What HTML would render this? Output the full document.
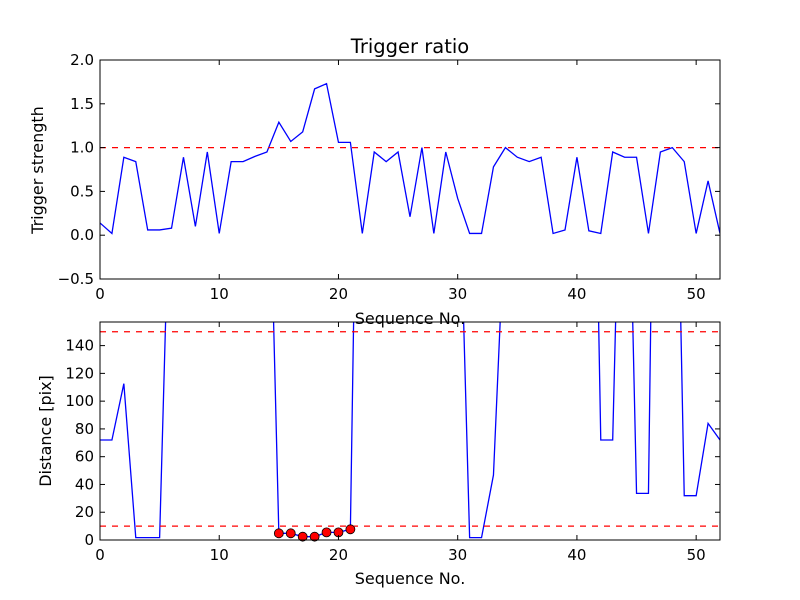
<!DOCTYPE html>
<html><head><meta charset="utf-8"><style>
html,body{margin:0;padding:0;background:#fff;}
svg{display:block;font-family:"DejaVu Sans","Liberation Sans",sans-serif;}
</style></head><body>
<svg id="fig" width="800" height="600" viewBox="0 0 800 600">
<defs>
<clipPath id="c1"><rect x="100" y="60" width="620" height="219"/></clipPath>
<clipPath id="c2"><rect x="100" y="322" width="620" height="218"/></clipPath>
</defs>
<rect width="800" height="600" fill="#fff"/>
<text x="410" y="53" font-size="19.5" text-anchor="middle">Trigger ratio</text>
<g id="top"></g>
<g id="bot"></g>
<text x="410" y="324" font-size="16" text-anchor="middle">Sequence No.</text>
<text x="410" y="584" font-size="16" text-anchor="middle">Sequence No.</text>
<text transform="translate(43,170) rotate(-90)" font-size="16" text-anchor="middle">Trigger strength</text>
<text transform="translate(51,431) rotate(-90)" font-size="16" text-anchor="middle">Distance [pix]</text>
</svg>
<script>
const triggerValues = [0.14,0.02,0.89,0.84,0.06,0.06,0.08,0.89,0.10,0.95,0.02,0.84,0.84,0.90,0.95,1.29,1.07,1.18,1.67,1.73,1.06,1.06,0.02,0.95,0.84,0.95,0.21,1.0,0.02,0.95,0.42,0.02,0.02,0.78,1.0,0.89,0.84,0.89,0.02,0.06,0.89,0.05,0.02,0.95,0.89,0.89,0.02,0.95,1.0,0.84,0.02,0.62,0.02];
const distanceValues = [72,72,112.6,1.7,1.7,1.7,312,350,350,350,350,350,350,350,350,4.8,4.8,2.4,2.4,5.5,5.5,7.7,560,560,560,560,560,560,560,560,312,1.7,1.7,46.8,243,243,243,243,243,243,545,545,72,72,420,33.6,33.6,683,463,31.9,31.9,84,72];
const markerIdx = [15,16,17,18,19,20,21];
const topYTicks = [-0.5,0,0.5,1.0,1.5,2.0];
const topYLabels = ["\u22120.5","0.0","0.5","1.0","1.5","2.0"];
const botYTicks = [0,20,40,60,80,100,120,140];
const xTicks = [0,10,20,30,40,50];
const topThreshold = [1.0];
const botThresholds = [10,150];

const NS="http://www.w3.org/2000/svg";
function mk(tag,attrs,parent){const e=document.createElementNS(NS,tag);for(const k in attrs)e.setAttribute(k,attrs[k]);parent.appendChild(e);return e;}
const X0=100,X1=720,XMAX=52;
const sx=v=>X0+(X1-X0)*v/XMAX;
function frame(g,y0,y1,sy,yt,ylab,prefix){
  const f=mk('rect',{x:X0,y:y0,width:X1-X0,height:y1-y0,fill:'none',stroke:'#000','stroke-width':1},g);
  
  
  xTicks.forEach(t=>{
    const x=sx(t);
    mk('line',{x1:x,x2:x,y1:y1,y2:y1-5,stroke:'#000'},g);
    mk('line',{x1:x,x2:x,y1:y0,y2:y0+5,stroke:'#000'},g);
    const tx=mk('text',{x:x,y:y1+20,'font-size':15,'text-anchor':'middle'},g);
    tx.textContent=t;
    
    
  });
  yt.forEach((t,i)=>{
    const y=sy(t);
    mk('line',{x1:X0,x2:X0+5,y1:y,y2:y,stroke:'#000'},g);
    mk('line',{x1:X1,x2:X1-5,y1:y,y2:y,stroke:'#000'},g);
    const tx=mk('text',{x:X0-6,y:y+5,'font-size':15,'text-anchor':'end'},g);
    tx.textContent=ylab[i];
    
    
  });
}
function line(g,vals,sy,clip,name){
  const p=mk('polyline',{points:vals.map((v,i)=>sx(i)+','+sy(v)).join(' '),fill:'none',stroke:'#0000ff','stroke-width':1.3,'clip-path':clip},g);
  
  
}
function hline(g,v,sy,name){
  const l=mk('line',{x1:X0,x2:X1,y1:sy(v),y2:sy(v),stroke:'#ff0000','stroke-width':1.2,'stroke-dasharray':'6,6'},g);
  
  
}
const gt=document.getElementById('top');
const syT=v=>279-(279-60)*(v+0.5)/2.5;
line(gt,triggerValues,syT,'url(#c1)','trigger-line');
topThreshold.forEach(v=>hline(gt,v,syT,'trigger-threshold'));
frame(gt,60,279,syT,topYTicks,topYLabels,'top');
const gb=document.getElementById('bot');
const syB=v=>540-(540-322)*v/157;
line(gb,distanceValues,syB,'url(#c2)','distance-line');
botThresholds.forEach(v=>hline(gb,v,syB,'distance-threshold'));
markerIdx.forEach(i=>{
  const c=mk('circle',{cx:sx(i),cy:syB(distanceValues[i]),r:4.5,fill:'#ff0000',stroke:'#000','stroke-width':0.8},gb);
  
  
});
frame(gb,322,540,syB,botYTicks,botYTicks.map(String),'bottom');
</script>
</body></html>
